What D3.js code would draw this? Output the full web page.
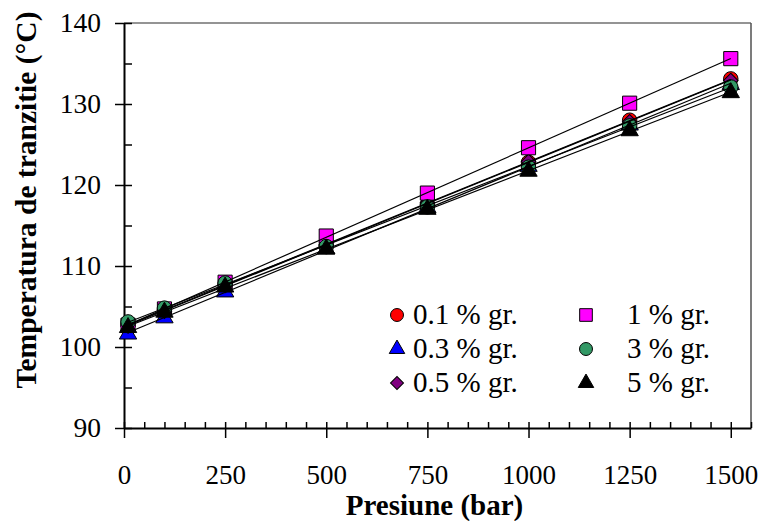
<!DOCTYPE html>
<html>
<head>
<meta charset="utf-8">
<script src="https://cdn.jsdelivr.net/npm/d3@7"></script>
<style>
  body { margin: 0; background: #fff; }
</style>
</head>
<body>
<div id="chart"></div>
<script>
// pressure (bar)
const pressure = [10, 100, 250, 500, 750, 1000, 1250, 1500];
// transition temperature (°C) per concentration
const s01 = [102.8, 104.6, 107.7, 112.6, 117.6, 122.8, 128.0, 133.1];
const s03 = [101.6, 103.6, 106.8, 112.1, 117.2, 122.3, 127.4, 132.4];
const s05 = [102.6, 104.4, 107.6, 112.6, 117.8, 122.9, 127.8, 132.9];
const s1  = [102.7, 104.7, 108.0, 113.7, 119.0, 124.6, 130.1, 135.6];
const s3  = [103.1, 104.8, 107.9, 112.4, 117.3, 122.2, 127.3, 132.1];
const s5  = [102.4, 104.3, 107.4, 112.1, 117.0, 121.7, 126.7, 131.4];
const seriesNames = ["0.1 % gr.", "0.3 % gr.", "0.5 % gr.", "1 % gr.", "3 % gr.", "5 % gr."];
const xTicks = [0, 250, 500, 750, 1000, 1250, 1500];
const yTicks = [90, 100, 110, 120, 130, 140];

const FONT = "Liberation Serif";

// "diamond" = square turned 45 degrees, like the spreadsheet marker
const series = [
  {name: seriesNames[0], values: s01, symbol: d3.symbolCircle, area: 165, rot: 0, fill: "#ff0000"},
  {name: seriesNames[1], values: s03, symbol: d3.symbolTriangle, area: 130, rot: 0, fill: "#0000ff"},
  {name: seriesNames[2], values: s05, symbol: d3.symbolSquare, area: 105, rot: 45, fill: "#800080"},
  {name: seriesNames[3], values: s1, symbol: d3.symbolSquare, area: 200, rot: 0, fill: "#ff00ff"},
  {name: seriesNames[4], values: s3, symbol: d3.symbolCircle, area: 165, rot: 0, fill: "#339966"},
  {name: seriesNames[5], values: s5, symbol: d3.symbolTriangle, area: 130, rot: 0, fill: "#000000"}
];

const W = 762, H = 521;
const margin = {top: 23, right: 11, bottom: 93, left: 124};
const width = W - margin.left - margin.right,
      height = H - margin.top - margin.bottom;

const svg = d3.select("#chart").append("svg")
    .attr("width", W).attr("height", H)
    .attr("font-family", FONT);
const g = svg.append("g")
    .attr("transform", `translate(${margin.left},${margin.top})`);

const x = d3.scaleLinear().domain([0, 1550]).range([0, width]);
const y = d3.scaleLinear().domain([90, 140]).range([height, 0]);

// frame (top / right)
g.append("line").attr("x1", 0).attr("x2", width).attr("y1", 0).attr("y2", 0)
    .attr("stroke", "#707070").attr("stroke-width", 1.5);
g.append("line").attr("x1", width).attr("x2", width).attr("y1", 0).attr("y2", height)
    .attr("stroke", "#505050").attr("stroke-width", 1.5);

// y axis: inner minor ticks + outer major ticks with labels
g.append("g")
    .call(d3.axisRight(y).tickValues(d3.range(90, 141, 5)).tickSize(8).tickFormat(""))
    .call(a => a.select(".domain").remove())
    .selectAll("line").attr("stroke-width", 1.5);
const yAxis = g.append("g")
    .call(d3.axisLeft(y).tickValues(yTicks).tickSizeInner(9).tickSizeOuter(0).tickPadding(14));
yAxis.attr("font-family", FONT);
yAxis.selectAll("text").attr("font-size", 27.5).attr("fill", "#000");
yAxis.selectAll("line").attr("stroke-width", 1.5);
yAxis.select(".domain").attr("stroke-width", 2);

// x axis: inner minor ticks + outer major ticks with labels
g.append("g").attr("transform", `translate(0,${height})`)
    .call(d3.axisTop(x).tickValues(d3.range(0, 1551, 50)).tickSize(6).tickFormat(""))
    .call(a => a.select(".domain").remove())
    .selectAll("line").attr("stroke-width", 1.5);
const xAxis = g.append("g").attr("transform", `translate(0,${height})`)
    .call(d3.axisBottom(x).tickValues(xTicks).tickFormat(d3.format("d"))
      .tickSizeInner(10).tickSizeOuter(0).tickPadding(27));
xAxis.attr("font-family", FONT);
xAxis.selectAll("text").attr("font-size", 27).attr("fill", "#000");
xAxis.selectAll("line").attr("stroke-width", 1.5);
xAxis.select(".domain").attr("stroke-width", 2);

// axis titles
svg.append("text")
    .attr("x", margin.left + width / 2 - 3).attr("y", 515)
    .attr("text-anchor", "middle").attr("font-weight", "bold").attr("font-size", 29)
    .text("Presiune (bar)");
svg.append("text")
    .attr("transform", "translate(36,200) rotate(-90)")
    .attr("text-anchor", "middle").attr("font-weight", "bold").attr("font-size", 29.5)
    .text("Temperatura de tranzitie (°C)");

// markers
series.forEach(s => {
  g.append("g").selectAll("path")
    .data(s.values.map((v, i) => ({p: pressure[i], v: v})))
    .join("path")
    .attr("transform", d => `translate(${x(d.p)},${y(d.v)}) rotate(${s.rot})`)
    .attr("d", d3.symbol(s.symbol, s.area))
    .attr("fill", s.fill)
    .attr("stroke", "#000").attr("stroke-width", 1);
});

// linear trend lines
series.forEach(s => {
  const mx = d3.mean(pressure), my = d3.mean(s.values);
  const slope = d3.sum(pressure, (p, i) => (p - mx) * (s.values[i] - my)) /
                d3.sum(pressure, p => (p - mx) * (p - mx));
  const icpt = my - slope * mx;
  const ends = [pressure[0], pressure[pressure.length - 1]];
  g.append("path")
    .datum(ends)
    .attr("d", d3.line().x(p => x(p)).y(p => y(icpt + slope * p)))
    .attr("fill", "none").attr("stroke", "#000").attr("stroke-width", 1.2);
});

// legend
const legendCols = [{mx: 397, tx: 413}, {mx: 586, tx: 627}];
const legendRows = [315, 349, 383];
series.forEach((s, i) => {
  const col = legendCols[Math.floor(i / 3)], row = legendRows[i % 3];
  svg.append("path")
    .attr("transform", `translate(${col.mx},${row}) rotate(${s.rot})`)
    .attr("d", d3.symbol(s.symbol, s.area * 0.8)())
    .attr("fill", s.fill).attr("stroke", "#000").attr("stroke-width", 1);
  svg.append("text")
    .attr("x", col.tx).attr("y", row + 9)
    .attr("font-size", 29).attr("fill", "#000")
    .text(s.name);
});
</script>
</body>
</html>
